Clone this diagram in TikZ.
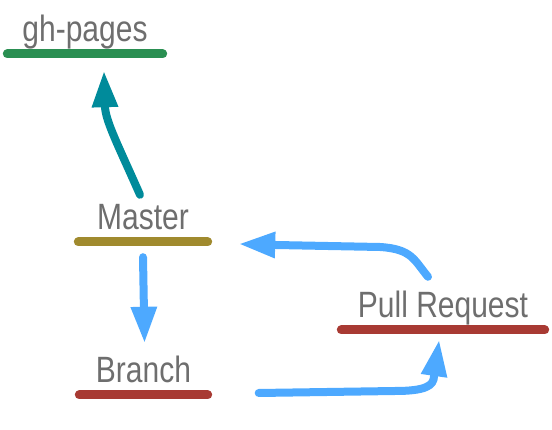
\documentclass[tikz,border=0pt]{standalone}
\usepackage{fontspec}
\usepackage{graphicx}
\newfontfamily\labelfont{Liberation Sans}
\usepackage{tikz}
\usetikzlibrary{calc,positioning,arrows.meta}

\definecolor{labelGray}{HTML}{6E6E6E}
\definecolor{pagesGreen}{HTML}{2A8F52}
\definecolor{masterOlive}{HTML}{A08A2E}
\definecolor{branchRed}{HTML}{A83A33}
\definecolor{mergeTeal}{HTML}{008B9B}
\definecolor{flowBlue}{HTML}{4DA9FF}

% names are set a little taller than the font draws them
\newcommand{\tallName}[1]{\scalebox{1}[1.22]{#1}}

\begin{document}
\begin{tikzpicture}
      [x=1pt, y=-1pt,
      % STYLES
      % The branchName style is used for the name of each branch
      branchName/.style={rectangle, inner sep=0pt, text=labelGray, minimum width=#1, text height=22pt, text depth=7pt, anchor=base, font=\labelfont\fontsize{30}{36}\selectfont},
      % The underBar style draws the coloured bar below a name
      underBar/.style={line width=9pt, line cap=round},
      % The flow style is used for the links between branches
      flow/.style={line width=8pt, line cap=round, line join=round, -{Triangle[length=35pt,width=27pt,line width=0pt]}}]

      \useasboundingbox (0,0) rectangle (552,430);

      % Draw branches
      \node [branchName=155pt] (ghPages) at (85,42) {\tallName{gh-pages}};
      \node [branchName=129pt] (master) at (143,230) {\tallName{Master}};
      \node [branchName=128pt] (branch) at (143.5,383) {\tallName{Branch}};
      \node [branchName=203pt] (pullRequest) at (443,318) {\tallName{Pull Request}};

      %%%%%%%%%%%%%%%
      % Bars
      \draw [underBar, pagesGreen] ([yshift=-12pt]ghPages.base west) -- ([yshift=-12pt]ghPages.base east);
      \draw [underBar, masterOlive] ([yshift=-12pt]master.base west) -- ([yshift=-12pt]master.base east);
      \draw [underBar, branchRed] ([yshift=-12pt]branch.base west) -- ([yshift=-12pt]branch.base east);
      \draw [underBar, branchRed] ([yshift=-12pt]pullRequest.base west) -- ([yshift=-12pt]pullRequest.base east);

      %%%%%%%%%%%%%%%%

      % Draw the links between branches
      \draw [flow, mergeTeal] ([shift={(-3,-13)}]master.north)
        .. controls (118,145) and (106,122) .. (105,107) -- ([shift={(19,23)}]ghPages.south);
      \draw [flow, flowBlue] ([shift={(0,20)}]master.south) -- ([shift={(1,-19)}]branch.north);
      \draw [flow, flowBlue] ([shift={(51,10)}]branch.base east) -- (395,391)
        .. controls (425,391) and (434,386) .. (434,376) -- ([shift={(-4,16)}]pullRequest.south);
      \draw [flow, flowBlue] ([shift={(-15,-19)}]pullRequest.north)
        .. controls (414,260) and (412,249) .. (380,247) -- (276,245) -- ([shift={(32.5,14)}]master.base east);

    \end{tikzpicture}
\end{document}
